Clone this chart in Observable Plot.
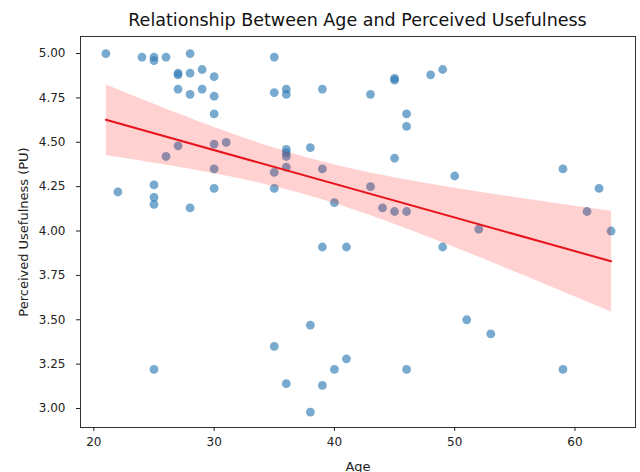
<!DOCTYPE html>
<html><head><meta charset="utf-8">
<script src="https://cdn.jsdelivr.net/npm/d3@7"></script>
<script src="https://cdn.jsdelivr.net/npm/@observablehq/plot@0.6"></script>
<style>
body{margin:0;background:#fff;}
#title{box-sizing:border-box;width:555px;margin-left:80px;height:34px;padding-top:10px;line-height:20px;text-align:center;font-family:"DejaVu Sans",sans-serif;font-size:17.5px;color:#111;}
g[aria-label="y-axis label"] text, g[aria-label="x-axis label"] text{font-size:13px;}
</style>
</head><body>
<div id="title">Relationship Between Age and Perceived Usefulness</div>
<div id="chart"></div>
<script>
const age = [21,24,25,25,26,28,35,27,27,28,29,30,27,29,28,30,35,30,27,30,31,26,30,35,22,25,25,25,28,30,35,36,36,39,43,45,45,48,49,46,46,36,36,36,38,45,36,39,50,43,40,44,45,46,39,41,49,52,59,62,61,63,25,35,38,41,40,46,36,39,38,51,53,59];
const pu  = [5.00,4.98,4.98,4.96,4.98,5.00,4.98,4.89,4.88,4.89,4.91,4.87,4.80,4.80,4.77,4.76,4.78,4.66,4.48,4.49,4.50,4.42,4.35,4.33,4.22,4.26,4.19,4.15,4.13,4.24,4.24,4.80,4.77,4.80,4.77,4.86,4.85,4.88,4.91,4.66,4.59,4.46,4.44,4.42,4.47,4.41,4.36,4.35,4.31,4.25,4.16,4.13,4.11,4.11,3.91,3.91,3.91,4.01,4.35,4.24,4.11,4.00,3.22,3.35,3.47,3.28,3.22,3.22,3.14,3.13,2.98,3.50,3.42,3.22];
const xTicks = [20,30,40,50,60];
const yTicks = [3.00,3.25,3.50,3.75,4.00,4.25,4.50,4.75,5.00];
const data = age.map((a,i)=>({age:a, pu:pu[i]}));

const chart = Plot.plot({
  width: 640, height: 438,
  marginTop: 2, marginBottom: 45, marginLeft: 80, marginRight: 5,
  style: {fontFamily: "DejaVu Sans", fontSize: "12px", color: "#222", background: "#fff"},
  x: {domain: [18.89, 65.03]},
  y: {domain: [2.893, 5.096]},
  marks: [
    Plot.dot(data, {x:"age", y:"pu", r:4.4, fill:"#2f7bb6", fillOpacity:0.65}),
    Plot.linearRegressionY(data, {x:"age", y:"pu", stroke:"#e8141c", strokeWidth:2, fill:"red", fillOpacity:0.18, ci:0.91}),
    Plot.frame({stroke:"#333"}),
    Plot.axisX({ticks:xTicks, tickSize:4, tickPadding:6, tickFormat:d=>String(d), label:"Age", labelAnchor:"center", labelOffset:43, labelArrow:"none"}),
    Plot.axisY({ticks:yTicks, tickSize:4, tickPadding:11, tickFormat:d=>d.toFixed(2), label:"Perceived Usefulness (PU)", labelAnchor:"center", labelOffset:62, labelArrow:"none"})
  ]
});
document.getElementById("chart").appendChild(chart);
</script>
</body></html>
